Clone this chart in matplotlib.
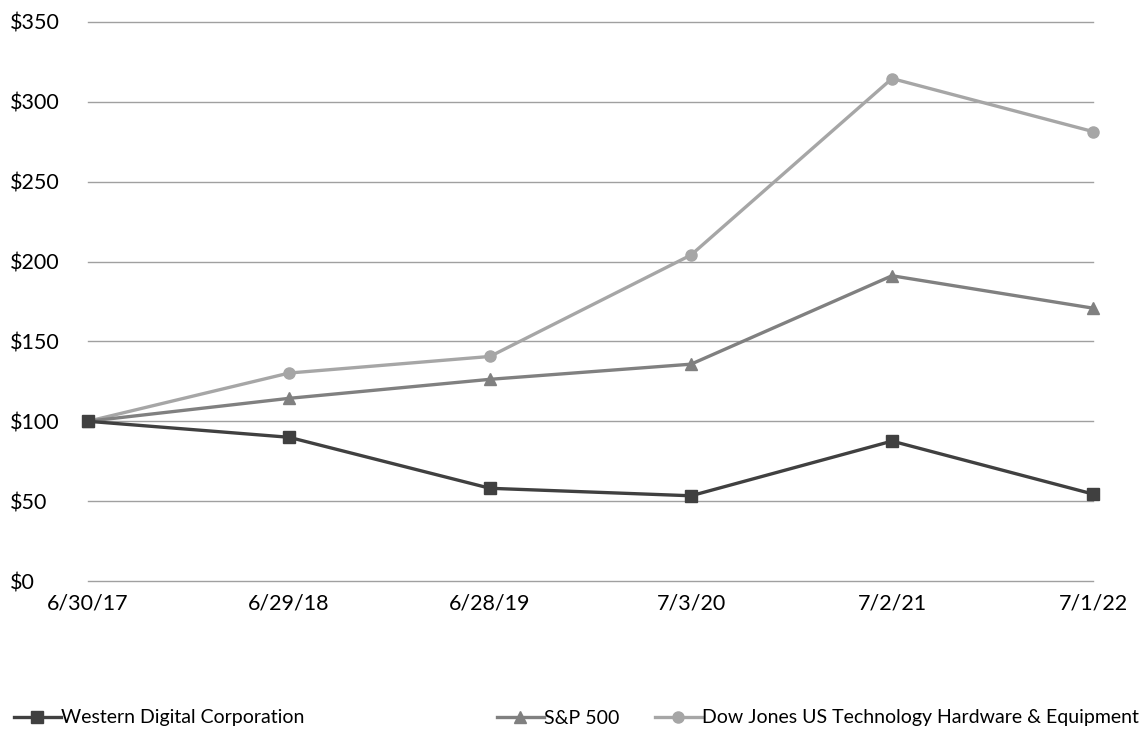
import matplotlib
matplotlib.use("Agg")
import matplotlib.pyplot as plt

dates = ["6/30/17", "6/29/18", "6/28/19", "7/3/20", "7/2/21", "7/1/22"]
wdc = [100, 89.99, 58.05, 53.36, 87.59, 54.45]
sp500 = [100, 114.37, 126.28, 135.76, 191.12, 170.83]
djtech = [100, 130.2, 140.6, 204.1, 314.6, 281.4]
yticks = [0, 50, 100, 150, 200, 250, 300, 350]

plt.rcParams['font.family'] = ['Lato', 'DejaVu Sans']

fig = plt.figure(figsize=(11.47, 7.32), dpi=100)
ax = fig.add_axes([88/1147, 1-581/732, (1093-88)/1147, (581-22)/732])

x = list(range(len(dates)))
l_dj, = ax.plot(x, djtech, color='#A6A6A6', lw=2.4, marker='o', ms=8, clip_on=False,
                label='Dow Jones US Technology Hardware & Equipment', zorder=3)
l_sp, = ax.plot(x, sp500, color='#808080', lw=2.4, marker='^', ms=8, clip_on=False,
                label='S&P 500', zorder=4)
l_wd, = ax.plot(x, wdc, color='#404040', lw=2.4, marker='s', ms=8, clip_on=False,
                label='Western Digital Corporation', zorder=5)

ax.set_xlim(0, 5)
ax.set_ylim(0, 350)
ax.set_yticks(yticks)
ax.set_yticklabels([f"${v}" for v in yticks])
ax.set_xticks(x)
ax.set_xticklabels(dates)
ax.yaxis.grid(True, color='#A0A0A0', lw=1)
for gl in ax.get_ygridlines():
    gl.set_clip_on(False)
ax.set_axisbelow(True)
for s in ax.spines.values():
    s.set_visible(False)
ax.tick_params(length=0, labelsize=15.5, colors='#000000')
ax.tick_params(axis='x', pad=9)
ax.tick_params(axis='y', pad=56)
for lab in ax.get_yticklabels():
    lab.set_horizontalalignment('left')

for handle, xpx in [(l_wd, 14), (l_sp, 497), (l_dj, 655)]:
    fig.legend([handle], [handle.get_label()], loc='center left',
               bbox_to_anchor=(xpx/1147, 1-718/732), frameon=False,
               prop={'family': 'Lato', 'size': 14},
               handlelength=2.4, handletextpad=0.0, borderpad=0, borderaxespad=0)

fig.savefig("out.png", dpi=100)
